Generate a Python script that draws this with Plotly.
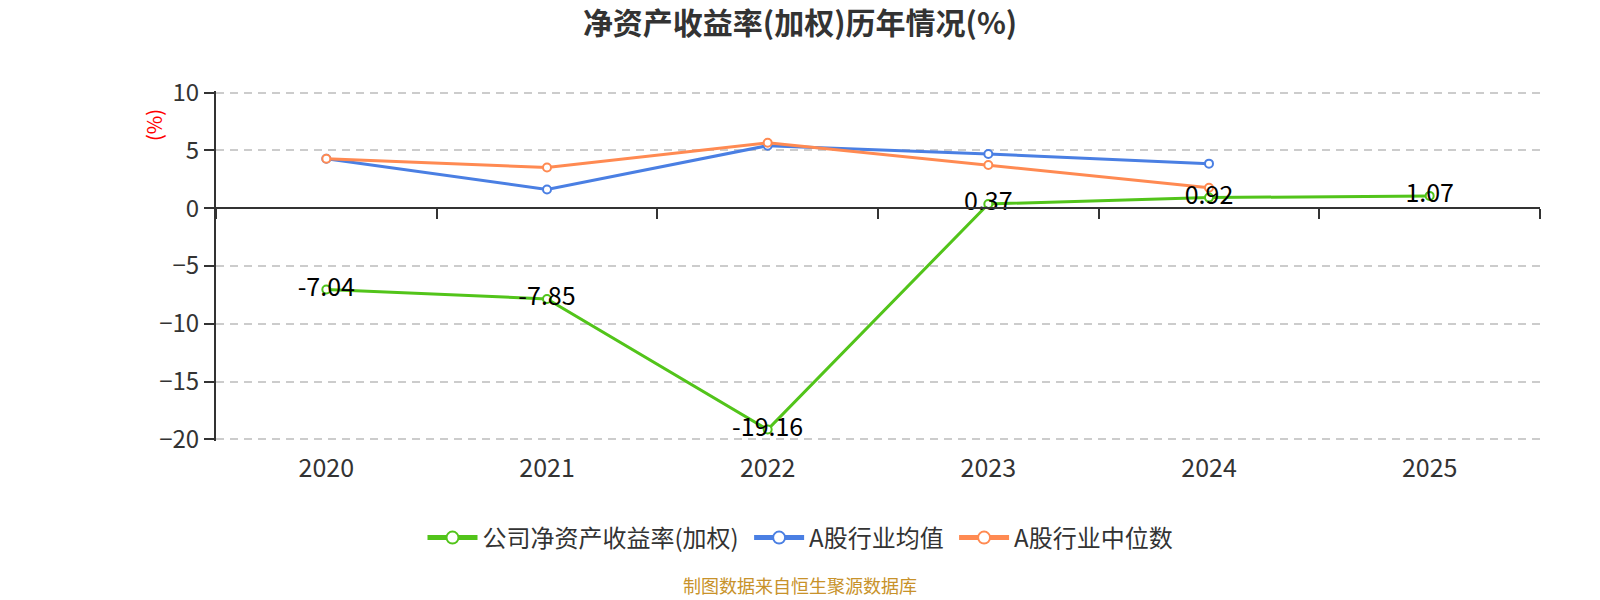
import plotly.graph_objects as go

years = ["2020", "2021", "2022", "2023", "2024", "2025"]
company = [-7.04, -7.85, -19.16, 0.37, 0.92, 1.07]
industry_avg = [4.29, 1.63, 5.42, 4.70, 3.86, None]
industry_median = [4.29, 3.52, 5.67, 3.75, 1.78, None]
company_labels = ["-7.04", "-7.85", "-19.16", "0.37", "0.92", "1.07"]

names = ["公司净资产收益率(加权)", "A股行业均值", "A股行业中位数"]
colors = ["#52C41A", "#4A7FE3", "#FF8A52"]

FONT = "Noto Sans CJK SC, Noto Sans, sans-serif"
PAD = "\u00a0"

fig = go.Figure()

def add_series(y, name, color, rank, text=None):
    fig.add_trace(go.Scatter(
        x=years, y=y, name=name + PAD, legendrank=rank,
        mode="lines+markers+text" if text else "lines+markers",
        line=dict(color=color, width=3),
        marker=dict(symbol="circle", size=8, color="white", line=dict(color=color, width=2)),
        text=text, textposition="middle center",
        textfont=dict(size=25, color="#000000", family=FONT),
        cliponaxis=False,
    ))

add_series(industry_avg, names[1], colors[1], 2)
add_series(industry_median, names[2], colors[2], 3)
add_series(company, names[0], colors[0], 1, company_labels)

# invisible carrier for the bottom category labels axis
fig.add_trace(go.Scatter(x=years, y=[None] * len(years), xaxis="x2", showlegend=False,
                         hoverinfo="skip", mode="lines"))

n = len(years)
eps = 0.15
L, R, T, B = 216, 60, 91, 159
PW = 1600 - L - R
PH = 600 - T - B

fig.update_layout(
    width=1600, height=600,
    margin=dict(l=L, r=R, t=T, b=B),
    paper_bgcolor="white", plot_bgcolor="white",
    font=dict(family=FONT, color="#333333", size=22),
    title=dict(text="<b>净资产收益率(加权)历年情况(%)</b>", x=0.5, xref="container",
               y=1 - 23.5 / 600, yanchor="middle", yref="container",
               font=dict(size=30, color="#333333", family=FONT)),
    xaxis=dict(type="category", categoryarray=years, categoryorder="array",
               range=[-0.5, n - 0.5], anchor="free", position=(20 + eps) / (30 + 2 * eps),
               showline=True, linecolor="#333333", linewidth=2,
               ticks="outside", tickson="boundaries", ticklen=10, tickwidth=2,
               tickcolor="#333333", showticklabels=False, showgrid=False, zeroline=False),
    xaxis2=dict(type="category", categoryarray=years, categoryorder="array",
                overlaying="x", anchor="y", side="bottom",
                range=[-0.5, n - 0.5], showline=False, ticks="", showgrid=False,
                zeroline=False, tickfont=dict(size=25, color="#333333"),
                ticklabelstandoff=10),
    yaxis=dict(range=[-20 - eps, 10 + eps], dtick=5, tick0=0, showline=True, linecolor="#333333",
               linewidth=2, ticks="outside", ticklen=10, tickwidth=2, tickcolor="#333333",
               showgrid=True, gridcolor="#CCCCCC", griddash="8px,6px", gridwidth=1.5,
               zeroline=False, tickfont=dict(size=24, color="#333333"), ticklabelstandoff=0),
    legend=dict(orientation="h", x=(803 - L) / PW, xanchor="center",
                y=(T + PH - 538) / PH, yanchor="middle", itemsizing="constant",
                font=dict(size=24, color="#333333"), itemwidth=50, traceorder="normal"),
    showlegend=True,
    annotations=[
        dict(text="(%)", xref="paper", yref="paper", x=(153 - L) / PW, y=(T + PH - 125) / PH,
             textangle=-90, showarrow=False, font=dict(size=20, color="#FF0000"),
             xanchor="center", yanchor="middle"),
        dict(text="制图数据来自恒生聚源数据库", xref="paper", yref="paper",
             x=(800 - L) / PW, y=(T + PH - 585) / PH, showarrow=False,
             font=dict(size=18, color="#C8922A"), xanchor="center", yanchor="middle"),
    ],
)

fig.write_html("out.html", config={"displayModeBar": False},
               post_script="document.body.style.margin='0';")
